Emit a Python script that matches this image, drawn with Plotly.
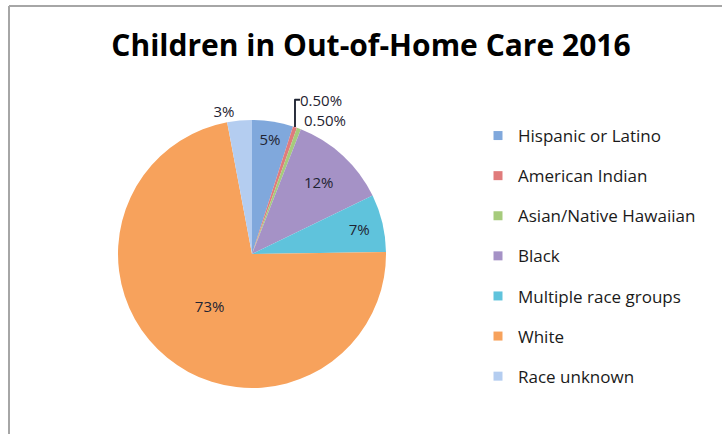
import plotly.graph_objects as go

categories = ["Hispanic or Latino", "American Indian", "Asian/Native Hawaiian",
              "Black", "Multiple race groups", "White", "Race unknown"]
values = [5, 0.5, 0.5, 12, 7, 73, 3]
colors = ["#80A8DC", "#E07B7B", "#A6CB7C", "#A592C6", "#5FC3DC", "#F7A25C", "#B4CDF0"]
title_text = "Children in Out-of-Home Care 2016"

W, H = 722, 434


def fmt(v):
    return f"{v:.2f}%" if v < 1 else f"{v:g}%"


labels_text = [fmt(v) for v in values]
positions = ["outside" if v <= 3 else "inside" for v in values]

fig = go.Figure()
fig.add_trace(go.Pie(
    labels=categories, values=values, text=labels_text, textinfo="text",
    textposition=positions, sort=False, direction="clockwise", rotation=0,
    marker=dict(colors=colors, line=dict(width=0)),
    textfont=dict(family="Open Sans", size=15, color="#1f2433"),
    insidetextorientation="horizontal",
    domain=dict(x=[118 / W, 386 / W], y=[1 - 388 / H, 1 - 120 / H]),
    showlegend=False, hoverinfo="label+percent",
))

for name, col in zip(categories, colors):
    fig.add_trace(go.Scatter(
        x=[None], y=[None], mode="markers", name=name, legendgroup=name,
        marker=dict(symbol="square", size=9, color=col),
    ))

fig.update_layout(
    width=W, height=H, margin=dict(l=0, r=0, t=0, b=0),
    paper_bgcolor="white", plot_bgcolor="white",
    title=dict(text=f"<b>{title_text}</b>", x=371 / W, xanchor="center",
               y=1 - 45 / H, yanchor="middle",
               font=dict(family="Open Sans", size=30, color="#000000")),
    xaxis=dict(visible=False), yaxis=dict(visible=False),
    legend=dict(x=478 / W, y=1 - 118 / H, xanchor="left", yanchor="top",
                font=dict(family="Open Sans", size=17, color="#1a1a1a"),
                traceorder="grouped", tracegroupgap=15, itemwidth=30,
                bgcolor="rgba(0,0,0,0)"),
    shapes=[
        dict(type="line", xref="paper", yref="paper", x0=9 / W, x1=1.2,
             y0=1 - 6 / H, y1=1 - 6 / H, line=dict(color="#a6a6a6", width=2)),
        dict(type="line", xref="paper", yref="paper", x0=9 / W, x1=9 / W,
             y0=-0.2, y1=1 - 6 / H, line=dict(color="#a6a6a6", width=2)),
    ],
)

fig.write_html("out.html")
